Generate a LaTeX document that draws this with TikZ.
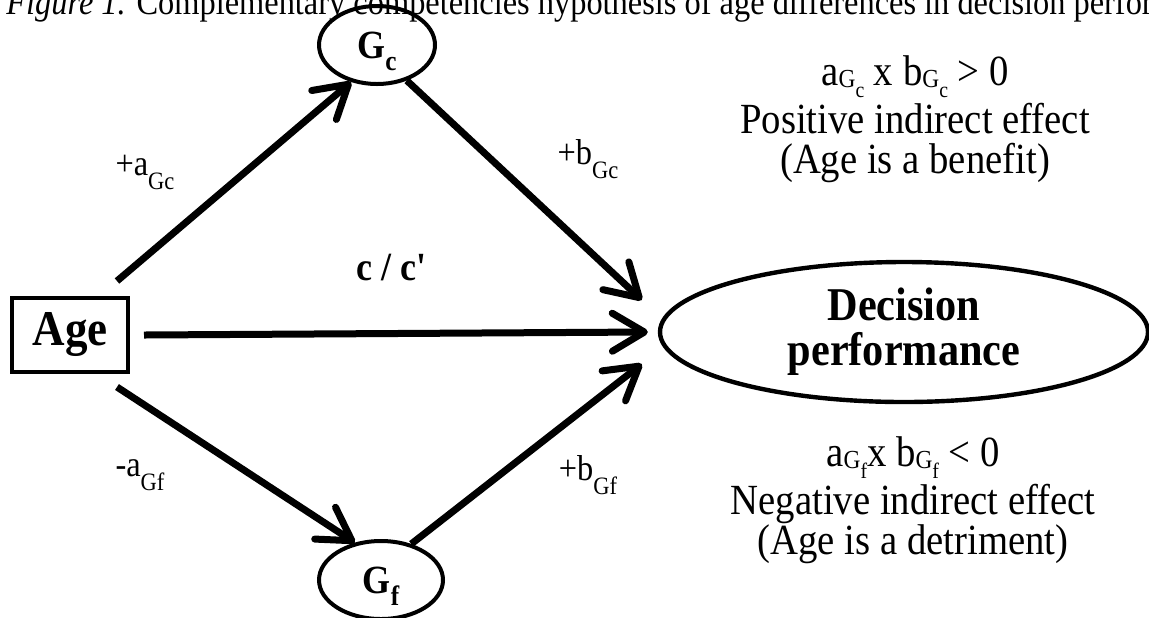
\documentclass[tikz,border=0pt]{standalone}
\usepackage{fontspec}
\setmainfont{Liberation Serif}[FakeStretch=0.9]
\usetikzlibrary{shapes.geometric,arrows.meta}

\newcommand{\idx}[3]{\raisebox{-#2}[0pt][0pt]{\fontsize{#1}{#1}\selectfont #3}}

\begin{document}
\begin{tikzpicture}[x=0.5pt,y=-0.5pt,
  latent/.style={ellipse,draw,line width=2pt,inner sep=0pt,
    minimum width=58pt,minimum height=39pt,font=\bfseries\fontsize{20}{20}\selectfont},
  effect/.style={line width=3.5pt,-{Straight Barb[length=16pt,width=19pt,round]}},
  weight/.style={font=\fontsize{18}{18}\selectfont},
  note/.style={align=center,font=\fontsize{21.5}{20}\selectfont}]
  \useasboundingbox (0,0) rectangle (1149,617);
  \clip (0,0) rectangle (1149,617);
  % caption, cut off at the top
  \node[anchor=base west,inner sep=0pt,font=\fontsize{18}{18}\selectfont] (title) at (6,14)
    {\textit{Figure 1.} Complementary competencies hypothesis of age differences in decision perfor};
  % variables
  \node[draw,line width=2pt,minimum width=58pt,minimum height=37pt,inner sep=0pt,
    font=\bfseries\fontsize{25}{25}\selectfont] (age) at (70,335) {Age};
  \node[latent] (gc) at (377,45) {G\idx{14}{6pt}{c}};
  \node[latent,minimum width=62pt] (gf) at (381,580) {G\idx{14}{6pt}{f}};
  \node[ellipse,draw,line width=2.2pt,minimum width=244pt,minimum height=70pt,inner sep=0pt,
    align=center,font=\bfseries\fontsize{23.5}{22.5}\selectfont] (dec) at (904,332) {Decision\\performance};
  % paths
  \draw[effect] ([xshift=-6.5pt,yshift=7.5pt]age.north east) -- (gc.235);
  \draw[effect] (gc.-50) -- ([xshift=-8pt,yshift=16pt]dec.west);
  \draw[effect] ([xshift=7pt]age.east) -- ([xshift=-5pt]dec.west);
  \draw[effect] ([xshift=-6.5pt,yshift=-6.5pt]age.south east) -- (gf.125);
  \draw[effect] (gf.50) -- ([xshift=-8pt,yshift=-16pt]dec.west);
  % path labels
  \node[weight] (agc) at (145,165) {+a\idx{12.5}{7pt}{Gc}};
  \node[weight] (bgc) at (588,152) {+b\idx{12.5}{7pt}{Gc}};
  \node[weight] (agf) at (140,468) {-a\idx{12.5}{7pt}{Gf}};
  \node[weight] (bgf) at (588,468) {+b\idx{12.5}{7pt}{Gf}};
  \node[font=\bfseries\fontsize{20}{20}\selectfont] (cc) at (392,268) {c / c\textquotesingle};
  % indirect effects
  \node[note] (pos) at (915,119)
    {a\idx{13}{1pt}{G\idx{11}{5pt}{c}} x b\idx{13}{1pt}{G\idx{11}{5pt}{c}} > 0\\[4pt]Positive indirect effect\\(Age is a benefit)};
  \node[note] (neg) at (913,500)
    {a\idx{13}{1pt}{G\idx{11}{5pt}{f}}x b\idx{13}{1pt}{G\idx{11}{5pt}{f}} < 0\\[4pt]Negative indirect effect\\(Age is a detriment)};
\end{tikzpicture}
\end{document}
